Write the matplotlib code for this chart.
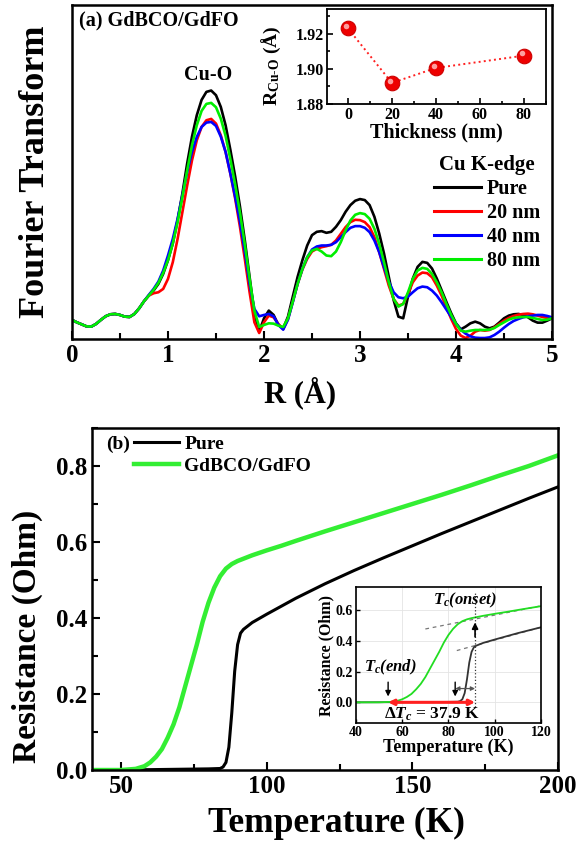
import numpy as np
import matplotlib
matplotlib.use('Agg')
import matplotlib.pyplot as plt
from matplotlib.ticker import MultipleLocator
from matplotlib.transforms import ScaledTranslation

plt.rcParams['font.family'] = 'Liberation Serif'
plt.rcParams['font.weight'] = 'bold'
plt.rcParams['axes.labelweight'] = 'bold'
plt.rcParams['mathtext.fontset'] = 'custom'
plt.rcParams['mathtext.rm'] = 'Liberation Serif:bold'
plt.rcParams['mathtext.bf'] = 'Liberation Serif:bold'
plt.rcParams['mathtext.it'] = 'Liberation Serif:italic:bold'

# ---- (a) Fourier transform of Cu K-edge EXAFS ----
r_grid = np.round(np.arange(0, 5.001, 0.05), 2)
low_r = [0.057, 0.050, 0.044, 0.038, 0.037, 0.045, 0.057, 0.068, 0.074, 0.075,
         0.072, 0.067, 0.066, 0.075, 0.092, 0.113]
ft_pure = low_r + [
    0.130, 0.145, 0.165, 0.195,
    0.236, 0.286, 0.356, 0.436, 0.526, 0.606, 0.670, 0.716, 0.740, 0.744,
    0.730, 0.695, 0.640, 0.566, 0.486, 0.396, 0.296, 0.186, 0.077,
    0.022, 0.062, 0.085, 0.072, 0.042, 0.032,
    0.067, 0.127, 0.186, 0.236, 0.280, 0.311, 0.321, 0.323, 0.318, 0.321,
    0.336, 0.356, 0.381, 0.401, 0.414, 0.419, 0.416, 0.401, 0.366, 0.316,
    0.256, 0.186, 0.117, 0.067, 0.062, 0.127, 0.181, 0.216, 0.231, 0.228,
    0.211, 0.181, 0.146, 0.111, 0.077, 0.047, 0.029, 0.037, 0.047, 0.052,
    0.047, 0.037, 0.032, 0.037, 0.049, 0.062, 0.070, 0.074, 0.075, 0.072,
    0.065, 0.055, 0.049, 0.049, 0.055, 0.062]
ft_20 = low_r + [
    0.130, 0.137, 0.140, 0.150,
    0.180, 0.230, 0.300, 0.380, 0.460, 0.535, 0.595, 0.635, 0.655, 0.659,
    0.645, 0.610, 0.560, 0.495, 0.420, 0.335, 0.240, 0.140, 0.050,
    0.018, 0.050, 0.070, 0.065, 0.045, 0.030,
    0.060, 0.112, 0.165, 0.208, 0.240, 0.262, 0.270, 0.275, 0.278, 0.282,
    0.295, 0.315, 0.335, 0.350, 0.357, 0.356, 0.350, 0.335, 0.305, 0.260,
    0.210, 0.160, 0.120, 0.100, 0.105, 0.135, 0.170, 0.190, 0.199, 0.197,
    0.185, 0.160, 0.130, 0.095, 0.060, 0.030, 0.010, 0.003, 0.010, 0.022,
    0.027, 0.025, 0.027, 0.035, 0.045, 0.055, 0.063, 0.069, 0.073, 0.075,
    0.076, 0.074, 0.070, 0.066, 0.063, 0.062]
ft_40 = low_r + [
    0.132, 0.150, 0.172, 0.205,
    0.250, 0.300, 0.360, 0.430, 0.500, 0.560, 0.605, 0.635, 0.648, 0.650,
    0.638, 0.606, 0.560, 0.495, 0.425, 0.350, 0.262, 0.165, 0.090,
    0.068, 0.072, 0.075, 0.068, 0.042, 0.028,
    0.058, 0.110, 0.165, 0.210, 0.245, 0.268, 0.277, 0.280, 0.280, 0.282,
    0.290, 0.305, 0.320, 0.333, 0.338, 0.338, 0.333, 0.320, 0.295, 0.260,
    0.215, 0.172, 0.140, 0.125, 0.122, 0.127, 0.140, 0.152, 0.157, 0.155,
    0.145, 0.130, 0.110, 0.088, 0.066, 0.045, 0.028, 0.016, 0.008, 0.004,
    0.003, 0.003, 0.005, 0.012, 0.022, 0.034, 0.045, 0.054, 0.060, 0.065,
    0.068, 0.070, 0.072, 0.072, 0.069, 0.065]
ft_80 = low_r + [
    0.130, 0.147, 0.168, 0.198,
    0.236, 0.286, 0.350, 0.425, 0.505, 0.580, 0.640, 0.683, 0.704, 0.707,
    0.694, 0.660, 0.608, 0.538, 0.462, 0.378, 0.284, 0.180, 0.085,
    0.036, 0.042, 0.047, 0.046, 0.040, 0.036,
    0.062, 0.112, 0.165, 0.210, 0.245, 0.265, 0.270, 0.262, 0.250, 0.248,
    0.262, 0.290, 0.325, 0.355, 0.372, 0.377, 0.374, 0.360, 0.330, 0.285,
    0.230, 0.170, 0.120, 0.097, 0.105, 0.140, 0.180, 0.205, 0.213, 0.210,
    0.195, 0.170, 0.140, 0.105, 0.072, 0.045, 0.025, 0.022, 0.025, 0.027,
    0.027, 0.027, 0.028, 0.033, 0.042, 0.050, 0.058, 0.063, 0.065, 0.066,
    0.066, 0.063, 0.060, 0.057, 0.058, 0.062]
ft_labels = ['Pure', '20 nm', '40 nm', '80 nm']
ft_colors = ['black', '#ff0000', '#0000ff', '#00ee00']

# inset: Cu-O bond length vs thickness
thickness = [0, 20, 40, 80]
r_cuo = [1.923, 1.892, 1.9005, 1.9075]

# ---- (b) resistance vs temperature ----
t_pure = [40, 60, 70, 80, 84, 85, 86, 87, 88, 89, 90, 91, 92, 95, 100, 105,
          110, 120, 130, 140, 150, 160, 170, 180, 190, 200]
res_pure = [0.0, 0.001, 0.002, 0.003, 0.004, 0.008, 0.02, 0.06, 0.15, 0.26,
            0.33, 0.36, 0.37, 0.388, 0.41, 0.431, 0.452, 0.49, 0.525, 0.558,
            0.59, 0.622, 0.653, 0.684, 0.715, 0.745]
t_film = [40, 50, 55, 58, 60, 62, 64, 66, 68, 70, 72, 74, 76, 78, 80, 82, 84,
          86, 88, 90, 95, 100, 105, 110, 120, 130, 140, 150, 160, 170, 180,
          190, 200]
res_film = [0.0, 0.0, 0.003, 0.01, 0.02, 0.035, 0.055, 0.085, 0.12, 0.165,
            0.22, 0.275, 0.33, 0.39, 0.44, 0.48, 0.51, 0.53, 0.542, 0.55,
            0.565, 0.578, 0.59, 0.603, 0.628, 0.652, 0.676, 0.70, 0.724,
            0.749, 0.775, 0.80, 0.828]

# onset construction in the inset
fit_film_t = [70, 120]
fit_film_r = [0.479, 0.63]
fit_pure_t = [83.6, 120]
fit_pure_r = [0.338, 0.49]
tc_onset = 91.5
tc_end = 53.9
tc_end_pure = 82.9

fig = plt.figure(figsize=(5.81, 8.41), dpi=100)

# ----- panel (a) -----
ax1 = fig.add_axes([0.1239, 0.5969, 0.8262, 0.3971])
for y, lab, col in zip([ft_pure, ft_20, ft_40, ft_80], ft_labels, ft_colors):
    ax1.plot(r_grid, y, color=col, lw=1.9, label=lab)
ax1.set_xlim(0, 5)
ax1.set_ylim(0, 1)
ax1.set_yticks([])
ax1.xaxis.set_major_locator(MultipleLocator(1))
ax1.xaxis.set_minor_locator(MultipleLocator(0.5))
ax1.tick_params(axis='x', which='both', direction='in', top=False,
                labelsize=18, width=1.5)
ax1.tick_params(axis='x', which='major', length=6)
ax1.tick_params(axis='x', which='minor', length=4)
for s in ax1.spines.values():
    s.set_linewidth(1.8)
ax1.set_xlabel('R (Å)', fontsize=22)
ax1.xaxis.set_label_coords(0.475, -0.112)
ax1.set_ylabel('Fourier Transform', fontsize=26)
ax1.yaxis.set_label_coords(-0.042, 0.5)
ax1.text(0.015, 0.985, '(a) GdBCO/GdFO', transform=ax1.transAxes,
         fontsize=14.5, va='top', ha='left')
ax1.text(1.42, 0.79, 'Cu-O', fontsize=14.5, ha='center', va='center')
leg = ax1.legend(loc='upper right', bbox_to_anchor=(1.0, 0.588), frameon=False,
                 title='Cu K-edge', fontsize=14.5, handlelength=2.3,
                 handletextpad=0.3, labelspacing=0.2, borderaxespad=0.2)
leg.get_title().set_fontsize(15)
leg.get_title().set_fontweight('bold')
for h in leg.get_lines():
    h.set_linewidth(2.2)

axi1 = fig.add_axes([0.5628, 0.8763, 0.3769, 0.1130])
axi1.plot(thickness, r_cuo, ':', color='#ff2020', lw=1.4)
axi1.plot(thickness, r_cuo, 'o', ms=10.5, mfc='#ee0000', mec='#cc0000',
          mew=0.8)
hl = axi1.transData + ScaledTranslation(-1.6 / 72, 1.6 / 72,
                                        fig.dpi_scale_trans)
axi1.plot(thickness, r_cuo, 'o', ms=4, mfc='#ffb0b0', mec='none',
          alpha=0.9, transform=hl)
axi1.set_xlim(-9.5, 90)
axi1.set_ylim(1.88, 1.934)
axi1.xaxis.set_major_locator(MultipleLocator(20))
axi1.xaxis.set_minor_locator(MultipleLocator(10))
axi1.yaxis.set_major_locator(MultipleLocator(0.02))
axi1.yaxis.set_minor_locator(MultipleLocator(0.01))
axi1.tick_params(which='both', direction='in', labelsize=11.5, width=1.2,
                 pad=2)
axi1.tick_params(which='major', length=4)
axi1.tick_params(which='minor', length=2.5)
for s in axi1.spines.values():
    s.set_linewidth(1.3)
axi1.set_xlabel('Thickness (nm)', fontsize=14.5, labelpad=0)
axi1.set_ylabel(r'R$_{\mathrm{Cu}\text{-}\mathrm{O}}$ (Å)', fontsize=14)
axi1.yaxis.set_label_coords(-0.2, 0.4)

# ----- panel (b) -----
ax2 = fig.add_axes([0.1583, 0.0844, 0.8021, 0.4067])
ax2.plot(t_pure, res_pure, color='black', lw=2.2, label='Pure')
ax2.plot(t_film, res_film, color='#33ee33', lw=3.2, label='GdBCO/GdFO')
ax2.set_xlim(40, 200)
ax2.set_ylim(0, 0.9)
ax2.xaxis.set_major_locator(MultipleLocator(50))
ax2.xaxis.set_minor_locator(MultipleLocator(25))
ax2.yaxis.set_major_locator(MultipleLocator(0.2))
ax2.yaxis.set_minor_locator(MultipleLocator(0.1))
ax2.tick_params(which='both', direction='in', labelsize=18, width=1.5)
ax2.tick_params(which='major', length=6)
ax2.tick_params(which='minor', length=4)
for s in ax2.spines.values():
    s.set_linewidth(1.8)
ax2.set_xlabel('Temperature (K)', fontsize=25.5)
ax2.xaxis.set_label_coords(0.525, -0.108)
ax2.set_ylabel('Resistance (Ohm)', fontsize=24)
ax2.yaxis.set_label_coords(-0.105, 0.39)
ax2.text(0.03, 0.978, '(b)', transform=ax2.transAxes, fontsize=14,
         va='top', ha='left')
leg2 = ax2.legend(loc='upper left', bbox_to_anchor=(0.065, 1.012),
                  frameon=False, fontsize=14, handlelength=2.3,
                  handletextpad=0.3, labelspacing=0.2, borderaxespad=0.2)

axi2 = fig.add_axes([0.6127, 0.1403, 0.3184, 0.1617])
axi2.grid(True, color='#e4e4e4', lw=0.6)
axi2.set_axisbelow(True)
axi2.plot(fit_film_t, fit_film_r, '--', color='#777777', lw=0.9, dashes=(3, 3))
axi2.plot(fit_pure_t, fit_pure_r, '--', color='#777777', lw=0.9, dashes=(3, 3))
axi2.plot(t_pure, res_pure, color='#333333', lw=1.3)
axi2.plot(t_film, res_film, color='#22dd22', lw=1.3)
axi2.plot([tc_onset, tc_onset], [-0.03, 0.72], ':', color='#333333', lw=0.9)
axi2.annotate('', xy=(tc_onset, 0.54), xytext=(tc_onset, 0.41),
              arrowprops=dict(arrowstyle='-|>', color='black', lw=1.2,
                              mutation_scale=9))
for tx in [tc_end, tc_end_pure]:
    axi2.annotate('', xy=(tx, 0.02), xytext=(tx, 0.15),
                  arrowprops=dict(arrowstyle='-|>', color='black', lw=1.0,
                                  mutation_scale=8))
axi2.annotate('', xy=(tc_end_pure, 0.09), xytext=(tc_onset, 0.09),
              arrowprops=dict(arrowstyle='<|-|>', color='#555555', lw=0.9,
                              mutation_scale=6, shrinkA=0, shrinkB=0))
axi2.annotate('', xy=(tc_end, 0.0), xytext=(tc_onset, 0.0),
              arrowprops=dict(arrowstyle='<|-|>', color='#ff2020', lw=2.2,
                              mutation_scale=8, shrinkA=0, shrinkB=0))
axi2.text(87, 0.665, r'$T_c$(onset)', fontsize=12, ha='center', va='center',
          style='italic')
axi2.text(55, 0.225, r'$T_c$(end)', fontsize=12, ha='center', va='center',
          style='italic')
axi2.text(73, -0.075, r'$\Delta T_c$ = 37.9 K', fontsize=12.5, ha='center',
          va='center')
axi2.set_xlim(40, 120)
axi2.set_ylim(-0.135, 0.753)
axi2.xaxis.set_major_locator(MultipleLocator(20))
axi2.yaxis.set_major_locator(MultipleLocator(0.2))
axi2.tick_params(which='both', direction='in', labelsize=10, width=1.0,
                 length=3, pad=2)
for s in axi2.spines.values():
    s.set_linewidth(1.2)
axi2.set_xlabel('Temperature (K)', fontsize=13, labelpad=0)
axi2.set_ylabel('Resistance (Ohm)', fontsize=11.5, labelpad=1)

fig.savefig('out.png', dpi=100)
